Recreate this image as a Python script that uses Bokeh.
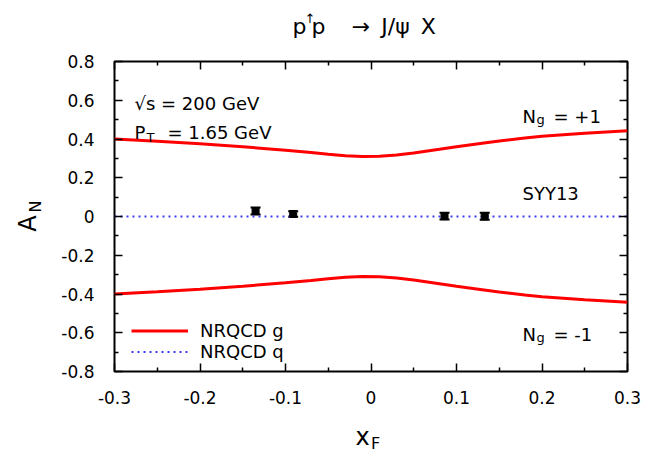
import math
from bokeh.plotting import figure
from bokeh.models import (Range1d, FixedTicker, LinearAxis, CustomJSTickFormatter,
                          Label, Legend, LegendItem, ColumnDataSource, Whisker, TeeHead)
from bokeh.embed import file_html
from bokeh.resources import INLINE

# Model curves: NRQCD gluon Sivers contribution, N_g = +1 and N_g = -1
xf_curve = [-0.30, -0.25, -0.20, -0.15, -0.10, -0.07, -0.05, -0.03, -0.01, 0.01, 0.03,
            0.05, 0.08, 0.10, 0.13, 0.15, 0.18, 0.20, 0.25, 0.30]
an_g_plus = [0.400, 0.388, 0.375, 0.360, 0.342, 0.330, 0.321, 0.313, 0.310, 0.311, 0.317,
             0.328, 0.347, 0.360, 0.378, 0.390, 0.405, 0.414, 0.430, 0.443]
an_g_minus = [-0.400, -0.388, -0.375, -0.360, -0.342, -0.330, -0.321, -0.313, -0.310, -0.311, -0.317,
              -0.328, -0.347, -0.360, -0.378, -0.390, -0.405, -0.414, -0.430, -0.443]

# NRQCD quark contribution (vanishes)
xf_q = [-0.30, 0.30]
an_q = [0.0, 0.0]

# PHENIX data points
xf_data = [-0.135, -0.091, 0.086, 0.133]
an_data = [0.028, 0.013, 0.002, 0.001]
an_err = [0.018, 0.014, 0.018, 0.018]

# tick positions
x_major = [-0.3, -0.2, -0.1, 0.0, 0.1, 0.2, 0.3]
x_minor = [-0.25, -0.15, -0.05, 0.05, 0.15, 0.25]
y_major = [-0.8, -0.6, -0.4, -0.2, 0.0, 0.2, 0.4, 0.6, 0.8]
y_minor = [-0.7, -0.5, -0.3, -0.1, 0.1, 0.3, 0.5, 0.7]

FONT = "DejaVu Sans"
W, H = 656, 453
L, R, T, B = 114, 627, 61, 371

p = figure(width=W, height=H, output_backend="svg", toolbar_location=None,
           x_range=Range1d(-0.3, 0.3), y_range=Range1d(-0.8, 0.8),
           min_border_left=L, min_border_right=W - R, min_border_top=T, min_border_bottom=H - B,
           x_axis_location=None, y_axis_location=None)
p.grid.visible = False
p.outline_line_color = "black"
p.outline_line_width = 2
p.background_fill_color = "white"
p.border_fill_color = "white"

tick_fmt = CustomJSTickFormatter(code="return Math.abs(tick) < 1e-9 ? '0' : tick.toFixed(1);")
blank_fmt = CustomJSTickFormatter(code="return '';")


def make_axis(major, minor, fmt, standoff):
    ax = LinearAxis(ticker=FixedTicker(ticks=major, minor_ticks=minor), formatter=fmt)
    ax.axis_line_color = None
    ax.major_tick_in = 8
    ax.major_tick_out = 0
    ax.minor_tick_in = 4
    ax.minor_tick_out = 0
    ax.major_tick_line_width = 1.5
    ax.minor_tick_line_width = 1.5
    ax.major_tick_line_color = "black"
    ax.minor_tick_line_color = "black"
    ax.major_label_text_font = FONT
    ax.major_label_text_font_size = "17px"
    ax.major_label_text_color = "black"
    ax.major_label_standoff = standoff
    return ax


p.add_layout(make_axis(x_major, x_minor, tick_fmt, 19), "below")
p.add_layout(make_axis(y_major, y_minor, tick_fmt, 20), "left")
p.add_layout(make_axis(x_major, x_minor, blank_fmt, 0), "above")
p.add_layout(make_axis(y_major, y_minor, blank_fmt, 0), "right")

# curves
rg1 = p.line(xf_curve, an_g_plus, line_color="#ff0000", line_width=3)
p.line(xf_curve, an_g_minus, line_color="#ff0000", line_width=3)
rq = p.line(xf_q, an_q, line_color="#3c3cf0", line_width=2, line_dash="2 4")

# data with error bars
src = ColumnDataSource(data=dict(
    x=xf_data, y=an_data,
    lo=[v - e for v, e in zip(an_data, an_err)],
    hi=[v + e for v, e in zip(an_data, an_err)]))
p.add_layout(Whisker(source=src, base="x", lower="lo", upper="hi", dimension="height",
                     line_color="black", line_width=2,
                     lower_head=TeeHead(size=10, line_width=2, line_color="black"),
                     upper_head=TeeHead(size=10, line_width=2, line_color="black")))
p.scatter("x", "y", source=src, marker="square", size=7, fill_color="black", line_color="black")

# legend
legend = Legend(items=[LegendItem(label="NRQCD g", renderers=[rg1]),
                       LegendItem(label="NRQCD q", renderers=[rq])],
                location=(17, 9), orientation="vertical",
                glyph_width=57, glyph_height=21, label_height=21, spacing=0,
                padding=0, margin=0, label_standoff=12,
                label_text_font=FONT, label_text_font_size="18px", label_text_color="black",
                border_line_color=None, background_fill_alpha=0)
p.add_layout(legend)


def put(text, px, py, size, align="left", baseline="alphabetic", angle=0.0, place="center"):
    # px, py: canvas pixels from the top-left corner
    lab = Label(x=px, y=py, x_units="canvas", y_units="canvas", text=text,
                text_font=FONT, text_font_size=f"{size}px", text_color="black",
                text_align=align, text_baseline=baseline, angle=angle)
    p.add_layout(lab, place)


# title  p↑p → J/ψ X  (pieces spread over the side panels so they do not grow the borders)
put("p", 292, 26, 22, place="above")
put("\u2191", 304, 18, 13, place="left")
put("p\u2003\u2009\u2192\u2002J/\u03c8\u2002X", 311, 26, 22, place="above")

# panel annotations
put("\u221as = 200 GeV", 134, 103, 18)
put("P", 134, 132, 18)
put("T", 146, 137, 13)
put("= 1.65 GeV", 167, 132, 18)

put("N", 522, 116, 18)
put("g", 536, 119, 13)
put("= +1", 553, 116, 18)

put("SYY13", 522, 193, 18)

put("N", 522, 334, 18)
put("g", 536, 337, 13)
put("= -1", 553, 334, 18)

# axis titles
put("x", 362, 436, 24, align="center", baseline="middle", place="below")
put("F", 375, 443, 16, align="center", baseline="middle", place="below")
put("A", 27, 223, 24, align="center", baseline="middle", angle=math.pi / 2, place="left")
put("N", 35, 206, 16, align="center", baseline="middle", angle=math.pi / 2, place="left")

open("out.html", "w").write(file_html(p, INLINE))
